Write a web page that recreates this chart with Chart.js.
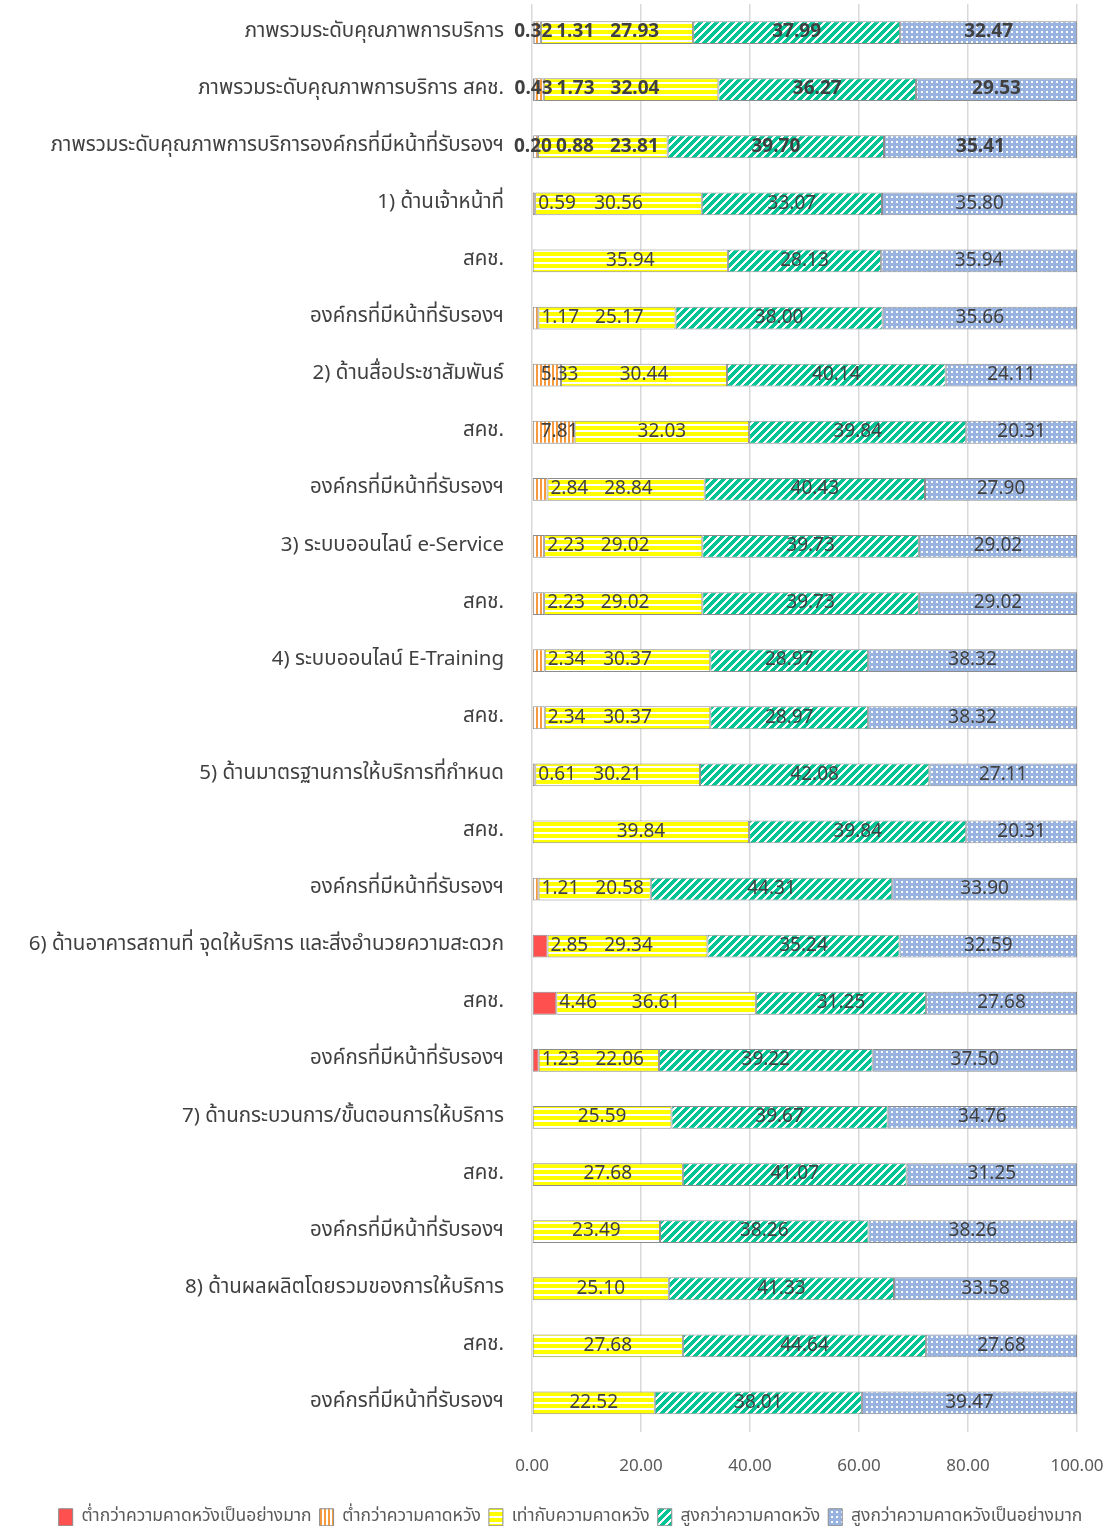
<!DOCTYPE html>
<html>
<head>
<meta charset="utf-8">
<script src="https://cdn.jsdelivr.net/npm/chart.js@4.4.1/dist/chart.umd.min.js"></script>
<style>
  html, body { margin: 0; padding: 0; background: #ffffff; }
  #c { display: block; }
</style>
</head>
<body>
<canvas id="c" width="1105" height="1526"></canvas>
<script>
// Service quality survey: share of respondents (%) per expectation level
const categories = [
  'ภาพรวมระดับคุณภาพการบริการ',
  'ภาพรวมระดับคุณภาพการบริการ สคช.',
  'ภาพรวมระดับคุณภาพการบริการองค์กรที่มีหน้าที่รับรองฯ',
  '1) ด้านเจ้าหน้าที่',
  'สคช.',
  'องค์กรที่มีหน้าที่รับรองฯ',
  '2) ด้านสื่อประชาสัมพันธ์',
  'สคช.',
  'องค์กรที่มีหน้าที่รับรองฯ',
  '3) ระบบออนไลน์ e-Service',
  'สคช.',
  '4) ระบบออนไลน์ E-Training',
  'สคช.',
  '5) ด้านมาตรฐานการให้บริการที่กำหนด',
  'สคช.',
  'องค์กรที่มีหน้าที่รับรองฯ',
  '6) ด้านอาคารสถานที่ จุดให้บริการ และสิ่งอำนวยความสะดวก',
  'สคช.',
  'องค์กรที่มีหน้าที่รับรองฯ',
  '7) ด้านกระบวนการ/ขั้นตอนการให้บริการ',
  'สคช.',
  'องค์กรที่มีหน้าที่รับรองฯ',
  '8) ด้านผลผลิตโดยรวมของการให้บริการ',
  'สคช.',
  'องค์กรที่มีหน้าที่รับรองฯ'
];

const seriesNames = [
  'ต่ำกว่าความคาดหวังเป็นอย่างมาก',
  'ต่ำกว่าความคาดหวัง',
  'เท่ากับความคาดหวัง',
  'สูงกว่าความคาดหวัง',
  'สูงกว่าความคาดหวังเป็นอย่างมาก'
];

const muchLower  = [0.32, 0.43, 0.20, 0, 0, 0, 0, 0, 0, 0, 0, 0, 0, 0, 0, 0, 2.85, 4.46, 1.23, 0, 0, 0, 0, 0, 0];
const lower      = [1.31, 1.73, 0.88, 0.59, 0, 1.17, 5.33, 7.81, 2.84, 2.23, 2.23, 2.34, 2.34, 0.61, 0, 1.21, 0, 0, 0, 0, 0, 0, 0, 0, 0];
const equal      = [27.93, 32.04, 23.81, 30.56, 35.94, 25.17, 30.44, 32.03, 28.84, 29.02, 29.02, 30.37, 30.37, 30.21, 39.84, 20.58, 29.34, 36.61, 22.06, 25.59, 27.68, 23.49, 25.10, 27.68, 22.52];
const higher     = [37.99, 36.27, 39.70, 33.07, 28.13, 38.00, 40.14, 39.84, 40.43, 39.73, 39.73, 28.97, 28.97, 42.08, 39.84, 44.31, 35.24, 31.25, 39.22, 39.67, 41.07, 38.26, 41.33, 44.64, 38.01];
const muchHigher = [32.47, 29.53, 35.41, 35.80, 35.94, 35.66, 24.11, 20.31, 27.90, 29.02, 29.02, 38.32, 38.32, 27.11, 20.31, 33.90, 32.59, 27.68, 37.50, 34.76, 31.25, 38.26, 33.58, 27.68, 39.47];

const xTicks = [0, 20, 40, 60, 80, 100];

const FONT = "'Noto Sans Thai', 'Leelawadee UI', Tahoma, 'Noto Sans', sans-serif";

// ---- fill patterns ----
function tile(w, h, paint) {
  const c = document.createElement('canvas');
  c.width = w; c.height = h;
  const g = c.getContext('2d');
  paint(g, w, h);
  return g.createPattern(c, 'repeat');
}

const solidRed = '#ff5050';

const vStripeOrange = tile(4, 4, (g, w, h) => {
  g.fillStyle = '#ffffff'; g.fillRect(0, 0, w, h);
  g.fillStyle = '#f79a3e'; g.fillRect(0, 0, 2, h);
});

const hStripeYellow = tile(4, 6, (g, w, h) => {
  g.fillStyle = '#ffffff'; g.fillRect(0, 0, w, h);
  g.fillStyle = '#ffff00'; g.fillRect(0, 0, w, 4);
});

const diagGreen = tile(8, 8, (g, w, h) => {
  const img = g.createImageData(w, h);
  for (let y = 0; y < h; y++) {
    for (let x = 0; x < w; x++) {
      const on = ((x + y) % 8) < 5;
      const i = (y * w + x) * 4;
      img.data[i]     = on ? 0   : 255;
      img.data[i + 1] = on ? 196 : 255;
      img.data[i + 2] = on ? 150 : 255;
      img.data[i + 3] = 255;
    }
  }
  g.putImageData(img, 0, 0);
});

const dotBlue = tile(5, 5, (g, w, h) => {
  g.fillStyle = '#98b3e0'; g.fillRect(0, 0, w, h);
  g.fillStyle = '#ffffff'; g.fillRect(1, 1, 2, 2);
});

const fills = [solidRed, vStripeOrange, hStripeYellow, diagGreen, dotBlue];
const seriesValues = [muchLower, lower, equal, higher, muchHigher];

// ---- segment value labels ----
const segmentLabels = {
  id: 'segmentLabels',
  afterDatasetsDraw(chart) {
    const ctx = chart.ctx;
    ctx.save();
    ctx.textBaseline = 'middle';
    ctx.textAlign = 'left';
    ctx.fillStyle = '#404040';
    chart.data.labels.forEach((_, i) => {
      ctx.font = (i < 3 ? 'bold ' : '') + '19px ' + FONT;
      const segs = [];
      chart.data.datasets.forEach((ds, d) => {
        const v = ds.data[i];
        if (!v) return;
        const el = chart.getDatasetMeta(d).data[i];
        const text = v.toFixed(2);
        segs.push({
          start: Math.min(el.base, el.x),
          end: Math.max(el.base, el.x),
          y: el.y,
          text,
          w: ctx.measureText(text).width
        });
      });
      let prevRight = -Infinity;
      let prevOutside = false;
      segs.forEach((s, k) => {
        const fits = s.w <= s.end - s.start + 10;
        const next = segs[k + 1];
        const nextFits = !next || next.w <= next.end - next.start + 10;
        let left = (fits || !nextFits) ? (s.start + s.end) / 2 - s.w / 2 : s.end + 3;
        if (fits && k === 0 && s.end - s.start < s.w + 10) left = Math.max(left, s.start + 8);
        const gap = (fits && prevOutside) ? 16 : 4;
        if (left < prevRight + gap) left = prevRight + gap;
        ctx.fillText(s.text, left, s.y + 1);
        prevRight = left + s.w;
        prevOutside = !fits;
      });
    });
    ctx.restore();
  }
};

// sit the legend row a little lower and to the right
const legendNudge = {
  id: 'legendNudge',
  afterLayout(chart) {
    const lg = chart.legend;
    if (lg) {
      lg.top += 10;
      lg.bottom += 10;
      lg.left += 18;
      lg.right += 18;
    }
  }
};

const datasets = seriesNames.map((name, d) => ({
  label: name,
  data: seriesValues[d].map(v => (v ? v : null)),
  backgroundColor: fills[d],
  borderColor: '#8c8c8c',
  borderWidth: 1,
  borderSkipped: false,
  categoryPercentage: 0.4,
  barPercentage: 1.0
}));

new Chart(document.getElementById('c'), {
  type: 'bar',
  data: { labels: categories, datasets },
  plugins: [segmentLabels, legendNudge],
  options: {
    indexAxis: 'y',
    responsive: false,
    animation: false,
    devicePixelRatio: 1,
    layout: { padding: { top: 4, left: 0, right: 0, bottom: 0 } },
    scales: {
      x: {
        stacked: true,
        min: 0,
        max: 100,
        afterBuildTicks: s => { s.ticks = xTicks.map(v => ({ value: v })); },
        afterFit: s => { s.height = 59; s.paddingLeft = 0; s.paddingRight = 28; },
        grid: { color: '#d9d9d9', lineWidth: 1.5, drawTicks: false },
        border: { display: false },
        ticks: {
          padding: 26,
          color: '#595959',
          font: { family: FONT, size: 17 },
          callback: v => Number(v).toFixed(2)
        }
      },
      y: {
        stacked: true,
        afterFit: s => { s.width = 532; s.paddingTop = 0; s.paddingBottom = 0; },
        grid: { display: false, drawTicks: false },
        border: { display: false },
        ticks: {
          padding: 28,
          autoSkip: false,
          color: '#404040',
          font: { family: FONT, size: 20.5 }
        }
      }
    },
    plugins: {
      tooltip: { enabled: false },
      legend: {
        position: 'bottom',
        labels: {
          boxWidth: 14,
          boxHeight: 17,
          padding: 8,
          color: '#595959',
          font: { family: FONT, size: 17.5 }
        }
      }
    }
  }
});
</script>
</body>
</html>
